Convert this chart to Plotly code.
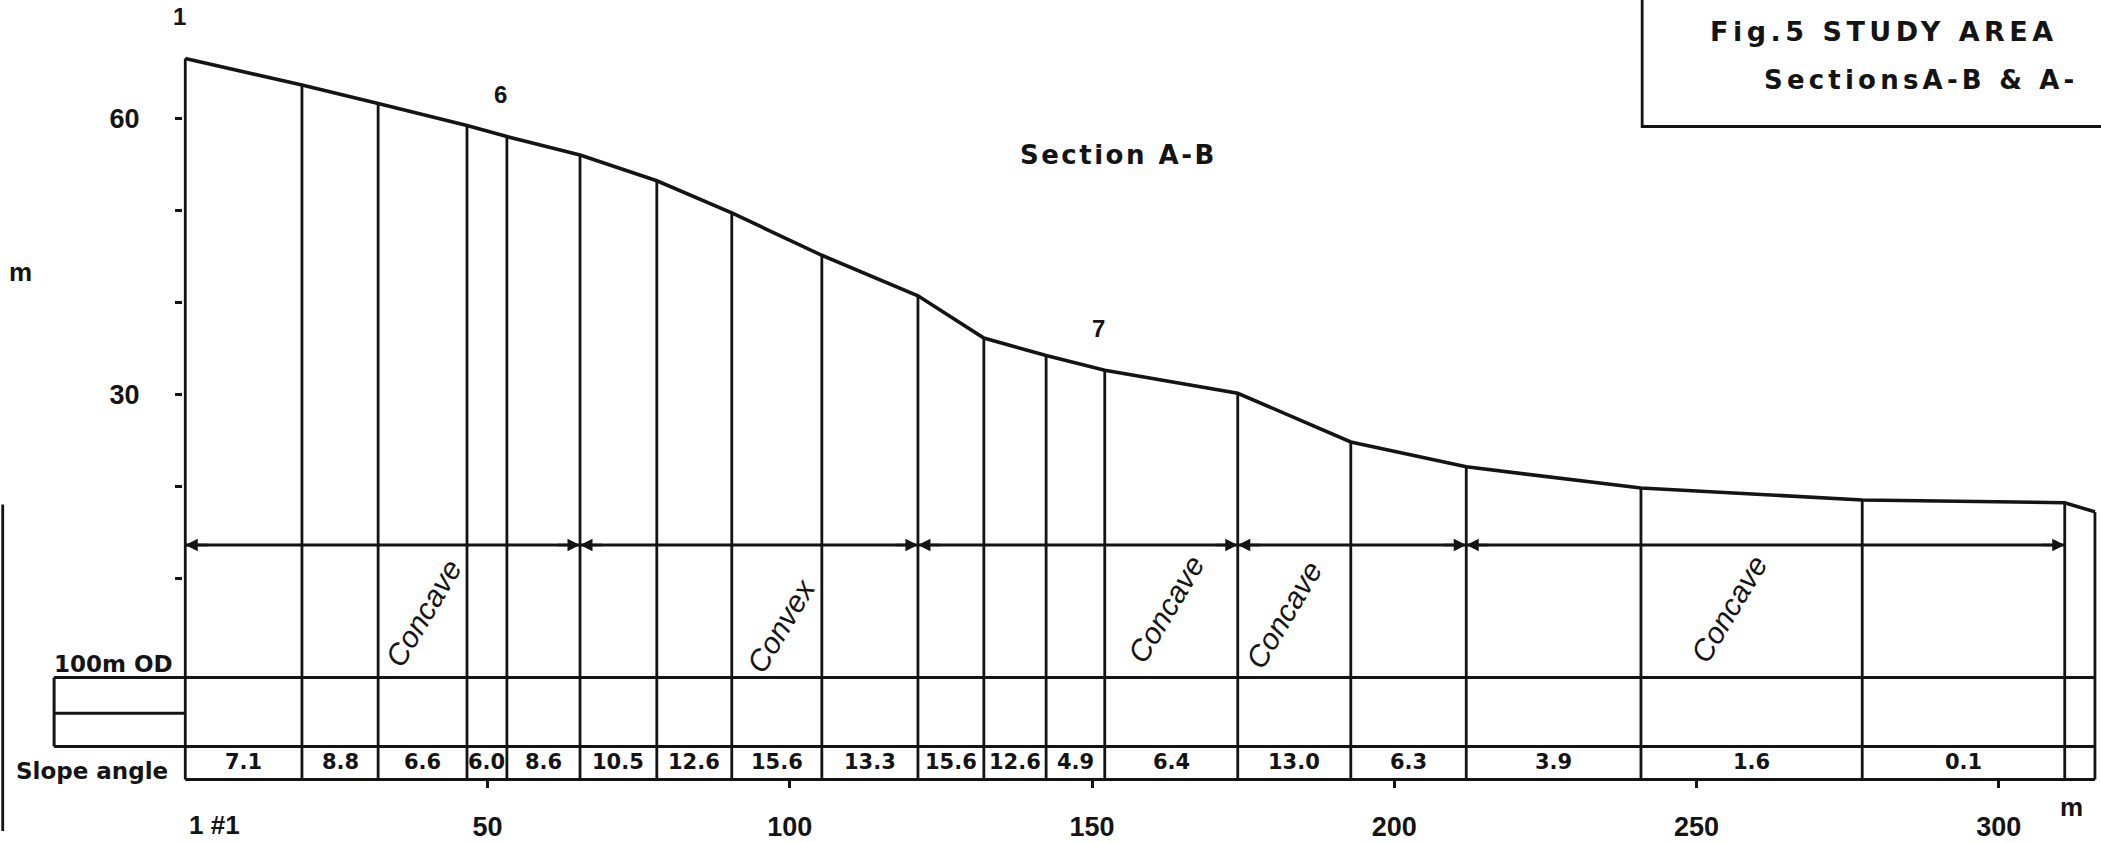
import plotly.graph_objects as go

# ---- survey data: Section A-B -------------------------------------------
# distance along the section (m) and height above 100 m OD (m) at each station
station_dist = [0, 19.3, 31.9, 46.6, 53.2, 65.3, 78.0, 90.4, 105.3, 121.2,
                132.1, 142.4, 152.1, 174.1, 192.8, 211.9, 240.8, 277.4, 310.9]
station_height = [66.5, 63.6, 61.6, 59.2, 58.0, 56.0, 53.2, 49.7, 45.1, 40.7,
                  36.1, 34.2, 32.6, 30.1, 24.8, 22.1, 19.8, 18.5, 18.2]
section_end = [315.9, 17.2]          # last surveyed point beyond the final station

# slope angle (degrees) of each segment between consecutive stations
slope_angles = [7.1, 8.8, 6.6, 6.0, 8.6, 10.5, 12.6, 15.6, 13.3,
                15.6, 12.6, 4.9, 6.4, 13.0, 6.3, 3.9, 1.6, 0.1]

# slope-form units along the section
form_bounds = [0, 65.3, 121.2, 174.1, 211.9, 310.9]
form_names = ["Concave", "Convex", "Concave", "Concave", "Concave"]

# numbered survey stations
station_marks = {0: "1", 4: "6", 12: "7"}

# axis ticks
x_ticks = [50, 100, 150, 200, 250, 300]
x_tick_text = ["50", "100", "150", "200", "250", "300"]
y_ticks = [10, 20, 30, 40, 50, 60]
y_tick_text = ["", "", "30", "", "", "60"]

# ---- drawing constants ----------------------------------------------------
INK = "#141414"
X_RANGE = [-30.65, 316.9]
Y_RANGE = [-17.49, 72.85]
ARROW_Y = 13.6          # level of the slope-form arrows
OD_Y = -0.8             # 100 m OD datum line
BOX_MID = -4.7
ROW_TOP = -8.3
ROW_BOT = -11.9
BOX_LEFT = -21.7
HEADER_X = 241.0
HEADER_Y = 59.1
FRAME_X = -30.2

form_label_pos = [(39.3, 6.2), (98.6, 4.8), (162.2, 6.6), (181.8, 6.0), (255.3, 6.6)]

fig = go.Figure()


def add_path(xs, ys, width=3.0):
    fig.add_trace(go.Scatter(x=xs, y=ys, mode="lines",
                             line=dict(color=INK, width=width),
                             hoverinfo="skip", showlegend=False))


# ground profile
add_path(station_dist + [section_end[0]], station_height + [section_end[1]], width=3.6)

# station verticals down to the base of the slope-angle row
vx, vy = [], []
for d, h in zip(station_dist, station_height):
    vx += [d, d, None]
    vy += [h, ROW_BOT, None]
vx += [section_end[0], section_end[0]]
vy += [section_end[1], ROW_BOT]
add_path(vx, vy, width=2.8)

# datum box and slope-angle table
add_path([BOX_LEFT, section_end[0]], [OD_Y, OD_Y])
add_path([BOX_LEFT, 0], [BOX_MID, BOX_MID])
add_path([BOX_LEFT, section_end[0]], [ROW_TOP, ROW_TOP])
add_path([0, section_end[0]], [ROW_BOT, ROW_BOT])
add_path([BOX_LEFT, BOX_LEFT], [OD_Y, ROW_TOP])

# slope-form arrow line
add_path([form_bounds[0], form_bounds[-1]], [ARROW_Y, ARROW_Y], width=2.8)

# header frame
add_path([HEADER_X, HEADER_X, X_RANGE[1]], [Y_RANGE[1], HEADER_Y, HEADER_Y], width=2.8)

# left frame edge
add_path([FRAME_X, FRAME_X], [18.0, Y_RANGE[0]], width=2.8)

annotations = []

# arrowheads at the ends of each slope-form unit
for a, b in zip(form_bounds[:-1], form_bounds[1:]):
    for x_head, off in ((a, 24), (b, -24)):
        annotations.append(dict(x=x_head, y=ARROW_Y, ax=off, ay=0, text="",
                                showarrow=True, arrowhead=2, arrowsize=1.0,
                                arrowwidth=2.5, arrowcolor=INK))

# slope-form names
for name, (lx, ly) in zip(form_names, form_label_pos):
    annotations.append(dict(x=lx, y=ly, text=name, showarrow=False, textangle=-59,
                            font=dict(family="Liberation Sans", size=30,
                                      style="italic", color=INK)))

# slope angles centred in their cells
for i, ang in enumerate(slope_angles):
    cx = (station_dist[i] + station_dist[i + 1]) / 2
    annotations.append(dict(x=cx, y=(ROW_TOP + ROW_BOT) / 2, text=f"{ang:.1f}",
                            showarrow=False, yshift=1,
                            font=dict(family="DejaVu Sans", size=21,
                                      weight="bold", color=INK)))

# station numbers
for idx, lab in station_marks.items():
    annotations.append(dict(x=station_dist[idx], y=station_height[idx], text=lab,
                            showarrow=False, yshift=42, xshift=-6,
                            font=dict(family="Liberation Sans", size=24,
                                      weight="bold", color=INK)))

bold = dict(family="DejaVu Sans", weight="bold", color=INK)
annotations += [
    dict(x=154.3, y=56.0, text="<span style='letter-spacing:2.5px'>Section A-B</span>",
         showarrow=False, font=dict(size=26, **bold)),
    dict(x=251.9, y=69.4, xanchor="left",
         text="<span style='letter-spacing:4.5px'>Fig.5 STUDY AREA</span>",
         showarrow=False, font=dict(size=27, **bold)),
    dict(x=260.9, y=64.1, xanchor="left",
         text="<span style='letter-spacing:4.2px'>SectionsA-B &amp; A-</span>",
         showarrow=False, font=dict(size=26, **bold)),
    dict(x=BOX_LEFT, y=OD_Y, xanchor="left", yanchor="bottom", xshift=-2, yshift=-2,
         text="100m OD", showarrow=False, font=dict(size=23, **bold)),
    dict(x=-28.3, y=-11.0, xanchor="left", text="Slope angle",
         showarrow=False, font=dict(size=23, **bold)),
    dict(x=4.8, y=-16.8, text="1 #1", showarrow=False,
         font=dict(family="Liberation Sans", size=26, weight="bold", color=INK)),
    dict(x=312.1, y=-14.9, text="m", showarrow=False,
         font=dict(family="Liberation Sans", size=26, weight="bold", color=INK)),
    dict(x=-27.3, y=43.3, text="m", showarrow=False,
         font=dict(family="Liberation Sans", size=26, weight="bold", color=INK)),
]

tick_font = dict(family="Liberation Sans", size=27, weight="bold", color=INK)

fig.update_layout(
    width=2101, height=842,
    margin=dict(l=0, r=0, t=0, b=0),
    paper_bgcolor="white", plot_bgcolor="white",
    showlegend=False,
    annotations=annotations,
    xaxis=dict(range=X_RANGE, showgrid=False, zeroline=False, showline=False,
               anchor="free", position=0.0625, side="bottom",
               tickmode="array", tickvals=x_ticks, ticktext=x_tick_text,
               ticks="outside", ticklen=8, tickwidth=3, tickcolor=INK,
               ticklabelstandoff=16, tickfont=tick_font, fixedrange=True),
    yaxis=dict(range=Y_RANGE, showgrid=False, zeroline=False, showline=False,
               anchor="free", position=0.0866, side="left",
               tickmode="array", tickvals=y_ticks, ticktext=y_tick_text,
               ticks="outside", ticklen=7, tickwidth=3, tickcolor=INK,
               ticklabelstandoff=30, tickfont=tick_font, fixedrange=True),
)

fig.write_html("out.html")
